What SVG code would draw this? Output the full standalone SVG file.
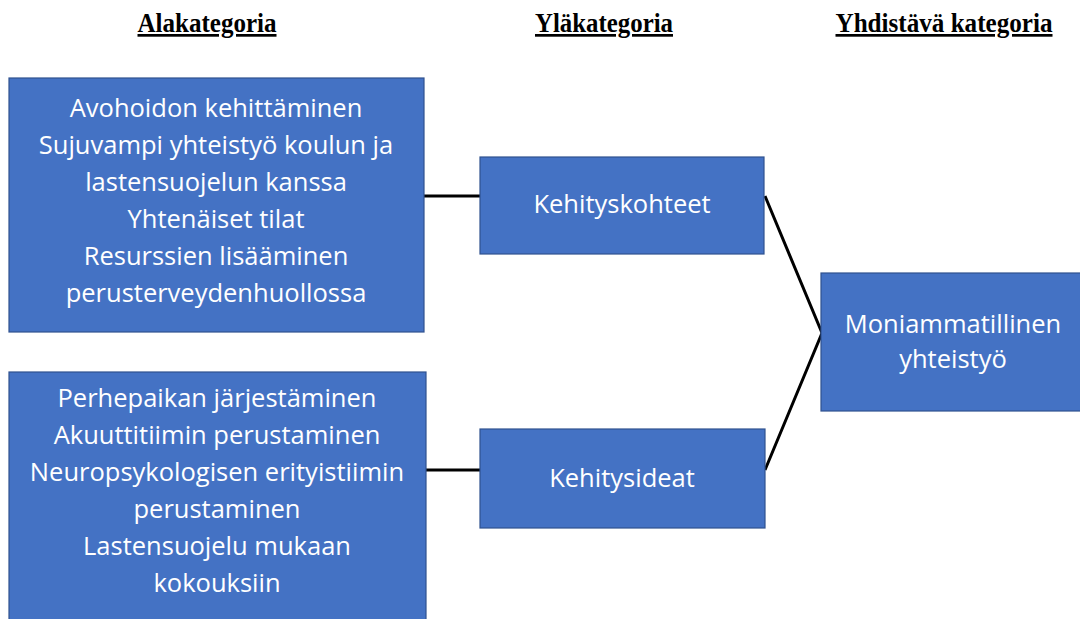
<svg xmlns="http://www.w3.org/2000/svg" width="1080" height="619" viewBox="0 0 1080 619">
<style>
.box{fill:#4472C4;stroke:#2F528F;stroke-width:1.2}
.t{font-family:"Open Sans","Noto Sans",sans-serif;font-size:25.5px;fill:#fff;text-anchor:middle}
.h{font-family:"Liberation Serif","Times New Roman",serif;font-weight:bold;font-size:27px;fill:#000;text-anchor:middle;text-decoration:underline}
.c{stroke:#000;stroke-width:3;fill:none}
</style>
<rect width="1080" height="619" fill="#fff"/>
<g id="headers">
<text class="h" x="207" y="32" textLength="139" lengthAdjust="spacingAndGlyphs">Alakategoria</text>
<text class="h" x="604" y="32" textLength="138" lengthAdjust="spacingAndGlyphs">Yläkategoria</text>
<text class="h" x="944" y="32" textLength="217" lengthAdjust="spacingAndGlyphs">Yhdistävä kategoria</text>
</g>
<g id="connectors">
<line class="c" x1="424" y1="196" x2="481" y2="196"/>
<line class="c" x1="426" y1="470" x2="481" y2="470"/>
<polyline class="c" points="765,196 822,333 765,470"/>
</g>
<g id="ala1">
<rect class="box" x="9" y="78" width="415" height="254"/>
<text class="t" x="216" y="117">Avohoidon kehittäminen</text>
<text class="t" x="216" y="154">Sujuvampi yhteistyö koulun ja</text>
<text class="t" x="216" y="191">lastensuojelun kanssa</text>
<text class="t" x="216" y="228">Yhtenäiset tilat</text>
<text class="t" x="216" y="265">Resurssien lisääminen</text>
<text class="t" x="216" y="302">perusterveydenhuollossa</text>
</g>
<g id="ala2">
<rect class="box" x="9" y="372" width="417" height="260"/>
<text class="t" x="217" y="407">Perhepaikan järjestäminen</text>
<text class="t" x="217" y="444">Akuuttitiimin perustaminen</text>
<text class="t" x="217" y="481">Neuropsykologisen erityistiimin</text>
<text class="t" x="217" y="518">perustaminen</text>
<text class="t" x="217" y="555">Lastensuojelu mukaan</text>
<text class="t" x="217" y="592">kokouksiin</text>
</g>
<g id="kehityskohteet">
<rect class="box" x="480" y="157" width="284" height="97"/>
<text class="t" x="622" y="213">Kehityskohteet</text>
</g>
<g id="kehitysideat">
<rect class="box" x="480" y="429" width="285" height="99"/>
<text class="t" x="622" y="487">Kehitysideat</text>
</g>
<g id="moniammatillinen">
<rect class="box" x="821" y="273" width="270" height="138"/>
<text class="t" x="953" y="333">Moniammatillinen</text>
<text class="t" x="953" y="368">yhteistyö</text>
</g>
</svg>
